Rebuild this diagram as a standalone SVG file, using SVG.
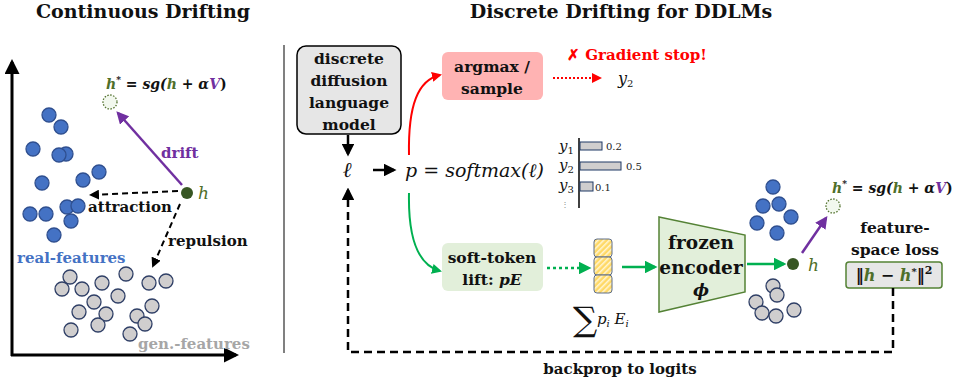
<svg xmlns="http://www.w3.org/2000/svg" width="956" height="383" viewBox="0 0 956 383">
<defs>
<style>
.t{font-family:"DejaVu Serif","Liberation Serif",serif;font-weight:bold;fill:#111}
.m{font-family:"DejaVu Serif","Liberation Serif",serif;font-style:italic;fill:#111}
.n{font-family:"DejaVu Serif","Liberation Serif",serif;fill:#222}
.b{fill:#4472C4;stroke:#2F4F8F;stroke-width:1.3}
.g{fill:#D0CECE;stroke:#2F3F66;stroke-width:1.3}
.hg{fill:#4F6F2A}
.pv{fill:#7030A0}
</style>
<marker id="ak" viewBox="0 0 10 10" refX="8" refY="5" markerWidth="5" markerHeight="5" orient="auto"><path d="M0,0 L10,5 L0,10 z" fill="#000"/></marker>
<marker id="ar" viewBox="0 0 10 10" refX="8" refY="5" markerWidth="5" markerHeight="5" orient="auto"><path d="M0,0 L10,5 L0,10 z" fill="#FF0000"/></marker>
<marker id="ag" viewBox="0 0 10 10" refX="8" refY="5" markerWidth="5" markerHeight="5" orient="auto"><path d="M0,0 L10,5 L0,10 z" fill="#00B050"/></marker>
<marker id="ap" viewBox="0 0 10 10" refX="8" refY="5" markerWidth="5" markerHeight="5" orient="auto"><path d="M0,0 L10,5 L0,10 z" fill="#7030A0"/></marker>
<pattern id="hatch" width="4" height="4" patternUnits="userSpaceOnUse" patternTransform="rotate(45)">
<rect width="4" height="4" fill="#FFD966"/><rect width="1.5" height="4" fill="#FFF6D5"/>
</pattern>
</defs>
<rect width="956" height="383" fill="#fff"/>

<!-- Titles -->
<text class="t" x="143" y="18" font-size="19" text-anchor="middle">Continuous Drifting</text>
<text class="t" x="621" y="18" font-size="19" text-anchor="middle">Discrete Drifting for DDLMs</text>

<!-- Left panel -->
<g id="axes">
<line x1="12" y1="356" x2="12" y2="62" stroke="#000" stroke-width="3" marker-end="url(#ak)"/>
<line x1="11" y1="355" x2="236" y2="355" stroke="#000" stroke-width="3" marker-end="url(#ak)"/>
</g>
<g id="real-features">
<circle class="b" cx="49" cy="115" r="7"/><circle class="b" cx="61" cy="127" r="7"/>
<circle class="b" cx="33" cy="149" r="7"/><circle class="b" cx="66" cy="154" r="7"/>
<circle class="b" cx="59" cy="155" r="7"/><circle class="b" cx="99" cy="172" r="7"/>
<circle class="b" cx="83" cy="180" r="7"/><circle class="b" cx="42" cy="183" r="7"/>
<circle class="b" cx="67" cy="207" r="7"/><circle class="b" cx="78" cy="206" r="7"/>
<circle class="b" cx="30" cy="214" r="7"/><circle class="b" cx="46" cy="214" r="7"/>
<circle class="b" cx="71" cy="221" r="7"/><circle class="b" cx="54" cy="235" r="7"/>
<text class="t" x="17" y="263" font-size="15" style="fill:#4472C4">real-features</text>
</g>
<g id="gen-features">
<circle class="g" cx="70" cy="277" r="7"/><circle class="g" cx="62" cy="289" r="7"/>
<circle class="g" cx="82" cy="289" r="7"/><circle class="g" cx="102" cy="283" r="7"/>
<circle class="g" cx="126" cy="274" r="7"/><circle class="g" cx="149" cy="283" r="7"/>
<circle class="g" cx="166" cy="281" r="7"/><circle class="g" cx="94" cy="302" r="7"/>
<circle class="g" cx="118" cy="296" r="7"/><circle class="g" cx="79" cy="312" r="7"/>
<circle class="g" cx="106" cy="314" r="7"/><circle class="g" cx="152" cy="306" r="7"/>
<circle class="g" cx="137" cy="316" r="7"/><circle class="g" cx="145" cy="324" r="7"/>
<circle class="g" cx="98" cy="325" r="7"/><circle class="g" cx="71" cy="330" r="7"/>
<circle class="g" cx="130" cy="334" r="7"/>
<text class="t" x="138" y="349" font-size="15" style="fill:#A6A6A6">gen.-features</text>
</g>
<g id="left-target">
<circle cx="110" cy="102" r="7" fill="#F2F8EE" stroke="#4F6F2A" stroke-width="1.3" stroke-dasharray="1.5,1.5"/>
<text class="t" x="106" y="89" font-size="14" font-style="italic"><tspan class="hg">h</tspan><tspan font-size="9" dy="-6">*</tspan><tspan dy="6" font-style="normal"> = </tspan>sg(<tspan class="hg">h</tspan><tspan font-style="normal"> + </tspan>α<tspan class="pv">V</tspan><tspan font-style="normal">)</tspan></text>
</g>
<g id="left-h">
<circle cx="187" cy="193" r="6" fill="#375623"/>
<text class="m" x="198" y="199" font-size="17" style="fill:#4F6F2A">h</text>
</g>
<g id="left-connectors">
<line x1="182" y1="185" x2="118" y2="113" stroke="#7030A0" stroke-width="2.5" marker-end="url(#ap)"/>
<text class="t" x="161" y="158" font-size="15" style="fill:#7030A0">drift</text>
<line x1="178" y1="191" x2="91" y2="195" stroke="#000" stroke-width="2" stroke-dasharray="6,4" marker-end="url(#ak)"/>
<text class="t" x="88" y="212" font-size="15">attraction</text>
<line x1="180" y1="204" x2="153" y2="266" stroke="#000" stroke-width="2" stroke-dasharray="6,4" marker-end="url(#ak)"/>
<text class="t" x="168" y="246" font-size="15">repulsion</text>
</g>

<!-- separator -->
<line x1="284" y1="45" x2="284" y2="353" stroke="#808080" stroke-width="2"/>

<!-- Right panel nodes -->
<g id="dlm">
<rect x="297" y="46" width="104" height="88" rx="9" fill="#E6E6E6" stroke="#000" stroke-width="1.5"/>
<text class="t" font-size="15.5" text-anchor="middle"><tspan x="349" y="64">discrete</tspan><tspan x="349" y="86">diffusion</tspan><tspan x="349" y="108">language</tspan><tspan x="349" y="130">model</tspan></text>
</g>
<g id="logits">
<text class="m" x="347" y="177" font-size="21" text-anchor="middle">ℓ</text>
</g>
<g id="softmax">
<text class="m" x="405" y="177" font-size="19">p = softmax(ℓ)</text>
</g>
<g id="argmax">
<rect x="442" y="52" width="101" height="48" rx="6" fill="#FFB3B3"/>
<text class="t" font-size="15.5" text-anchor="middle"><tspan x="492" y="72">argmax /</tspan><tspan x="492" y="94">sample</tspan></text>
</g>
<g id="gradient-stop">
<text class="t" x="567" y="60" font-size="15" style="fill:#FF0000">✗ Gradient stop!</text>
</g>
<g id="y2-out">
<text class="m" x="618" y="84" font-size="16">y<tspan font-size="10" dy="3" font-style="normal">2</tspan></text>
</g>
<g id="bar-chart">
<line x1="579" y1="138" x2="579" y2="208" stroke="#000" stroke-width="1.5"/>
<rect x="580" y="142" width="22" height="8" fill="#D0CECE" stroke="#1F3864" stroke-width="1"/>
<rect x="580" y="162" width="41" height="8" fill="#D0CECE" stroke="#1F3864" stroke-width="1"/>
<rect x="580" y="182" width="13" height="9" fill="#D0CECE" stroke="#1F3864" stroke-width="1"/>
<text class="m" x="559" y="151" font-size="15">y<tspan font-size="10" dy="3" font-style="normal">1</tspan></text>
<text class="m" x="559" y="170" font-size="15">y<tspan font-size="10" dy="3" font-style="normal">2</tspan></text>
<text class="m" x="559" y="190" font-size="15">y<tspan font-size="10" dy="3" font-style="normal">3</tspan></text>
<text class="n" x="606" y="150" font-size="10">0.2</text>
<text class="n" x="626" y="170" font-size="10">0.5</text>
<text class="n" x="595" y="191" font-size="10">0.1</text>
<text class="n" x="565" y="207" font-size="8" text-anchor="middle" style="fill:#888">⋮</text>
</g>
<g id="soft-token">
<rect x="442" y="243" width="101" height="48" rx="6" fill="#E2EFDA"/>
<text class="t" font-size="15.5" text-anchor="middle"><tspan x="492" y="263">soft-token</tspan><tspan x="492" y="285">lift: <tspan font-style="italic">pE</tspan></tspan></text>
</g>
<g id="embedding-cells">
<rect x="594" y="239" width="18" height="18" rx="3" fill="url(#hatch)" stroke="#5F6F8A" stroke-width="1"/>
<rect x="594" y="257" width="18" height="18" rx="3" fill="url(#hatch)" stroke="#5F6F8A" stroke-width="1"/>
<rect x="594" y="275" width="18" height="18" rx="3" fill="url(#hatch)" stroke="#5F6F8A" stroke-width="1"/>
<text class="n" x="573" y="331" font-size="34" style="fill:#111">∑</text>
<text class="m" x="597" y="324" font-size="15">p<tspan font-size="10" dy="3">i</tspan><tspan dy="-3"> E</tspan><tspan font-size="10" dy="3">i</tspan></text>
</g>
<g id="encoder">
<polygon points="659,217 745,235 745,292 659,312" fill="#E2EFDA" stroke="#548235" stroke-width="1.5"/>
<text class="t" font-size="18.5" text-anchor="middle"><tspan x="701" y="249">frozen</tspan><tspan x="701" y="274">encoder</tspan><tspan x="701" y="296" font-style="italic" font-size="17">ϕ</tspan></text>
</g>
<g id="right-features">
<circle class="b" cx="773" cy="187" r="7"/><circle class="b" cx="763" cy="206" r="7"/>
<circle class="b" cx="779" cy="204" r="7"/><circle class="b" cx="791" cy="217" r="7"/>
<circle class="b" cx="757" cy="223" r="7"/><circle class="b" cx="777" cy="233" r="7"/>
<circle class="g" cx="773" cy="286" r="7"/><circle class="g" cx="777" cy="295" r="7"/>
<circle class="g" cx="756" cy="302" r="7"/><circle class="g" cx="762" cy="313" r="7"/>
<circle class="g" cx="776" cy="316" r="7"/><circle class="g" cx="794" cy="310" r="7"/>
</g>
<g id="right-h">
<circle cx="793" cy="264" r="6" fill="#375623"/>
<text class="m" x="808" y="271" font-size="17" style="fill:#4F6F2A">h</text>
</g>
<g id="right-target">
<circle cx="833" cy="206" r="7" fill="#F2F8EE" stroke="#4F6F2A" stroke-width="1.3" stroke-dasharray="1.5,1.5"/>
<text class="t" x="832" y="193" font-size="14" font-style="italic"><tspan class="hg">h</tspan><tspan font-size="9" dy="-6">*</tspan><tspan dy="6" font-style="normal"> = </tspan>sg(<tspan class="hg">h</tspan><tspan font-style="normal"> + </tspan>α<tspan class="pv">V</tspan><tspan font-style="normal">)</tspan></text>
</g>
<g id="loss">
<text class="t" font-size="15.5" text-anchor="middle"><tspan x="895" y="233">feature-</tspan><tspan x="895" y="255">space loss</tspan></text>
<rect x="846" y="262" width="96" height="26" rx="3" fill="#E6E6E6" stroke="#548235" stroke-width="1.5"/>
<text class="t" x="894" y="281" font-size="16" text-anchor="middle">‖<tspan class="hg" font-style="italic">h</tspan> − <tspan class="hg" font-style="italic">h</tspan><tspan font-size="10" dy="-6">*</tspan><tspan dy="6">‖</tspan><tspan font-size="11" dy="-7">2</tspan></text>
</g>
<g id="backprop-label">
<text class="t" x="620" y="374" font-size="15" text-anchor="middle">backprop to logits</text>
</g>

<!-- Connectors -->
<g id="connectors" fill="none">
<line x1="348" y1="135" x2="348" y2="154" stroke="#000" stroke-width="2.5" marker-end="url(#ak)"/>
<line x1="373" y1="170" x2="394" y2="170" stroke="#000" stroke-width="2.5" marker-end="url(#ak)"/>
<path d="M409,155 C408,105 418,80 440,75" stroke="#FF0000" stroke-width="2" marker-end="url(#ar)"/>
<path d="M409,193 C408,240 418,265 440,271" stroke="#00B050" stroke-width="2" marker-end="url(#ag)"/>
<line x1="553" y1="78" x2="600" y2="78" stroke="#FF0000" stroke-width="2" stroke-dasharray="2,2" marker-end="url(#ar)"/>
<line x1="547" y1="268" x2="589" y2="268" stroke="#00B050" stroke-width="2.5" stroke-dasharray="3,3" marker-end="url(#ag)"/>
<line x1="622" y1="267" x2="655" y2="267" stroke="#00B050" stroke-width="2.5" marker-end="url(#ag)"/>
<line x1="747" y1="264" x2="784" y2="264" stroke="#00B050" stroke-width="2.5" marker-end="url(#ag)"/>
<line x1="802" y1="253" x2="826" y2="218" stroke="#7030A0" stroke-width="2.5" marker-end="url(#ap)"/>
<path d="M893,288 V352 H348 V190" stroke="#000" stroke-width="2.5" stroke-dasharray="8,5" marker-end="url(#ak)"/>
</g>
</svg>
